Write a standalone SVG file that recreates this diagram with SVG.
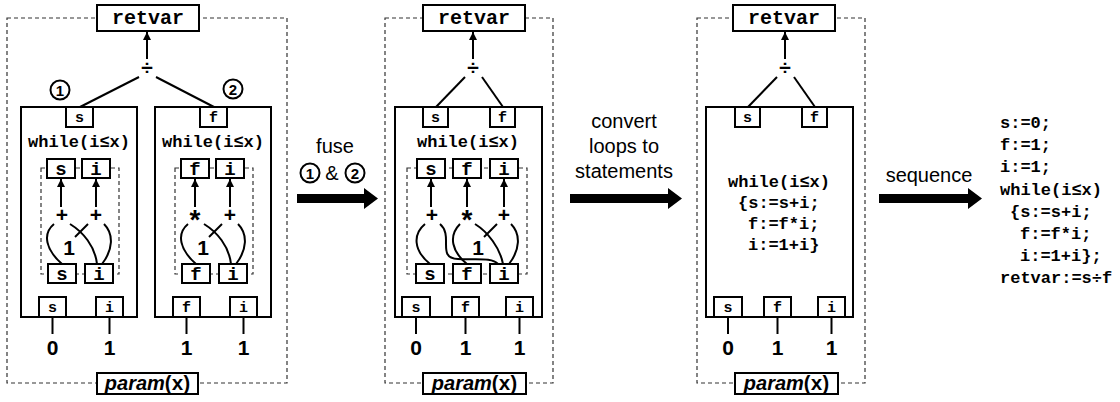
<svg xmlns="http://www.w3.org/2000/svg" width="1120" height="402" viewBox="0 0 1120 402">
<defs>
<style>
.box{fill:#fff;stroke:#000;stroke-width:2}
.frame{fill:none;stroke:#000;stroke-width:2}
.dash{fill:none;stroke:#333;stroke-width:1.2;stroke-dasharray:4 3}
.ln{fill:none;stroke:#000;stroke-width:2}
.arr{fill:none;stroke:#000;stroke-width:2;marker-end:url(#ah)}
.m{font-family:"Liberation Mono","Courier New",monospace;font-weight:bold;fill:#000}
.s{font-family:"Liberation Sans",Arial,sans-serif;fill:#000}
.b{font-weight:bold}
.c{text-anchor:middle}
.rv{font-size:20px}
.wh{font-size:17px}
.lb{font-size:15px}
.ib{font-size:19px}
.op{font-size:21px;font-weight:bold}
.ast{font-size:28px;font-weight:bold}
.num{font-size:21px;font-weight:bold}
.lab{font-size:20px}
.circ{fill:#fff;stroke:#000;stroke-width:2}
.cn{font-size:15px;font-weight:bold}
.big{fill:#000}
</style>
<marker id="ah" viewBox="0 0 10 10" refX="10" refY="5" markerWidth="8" markerHeight="8" markerUnits="userSpaceOnUse" orient="auto"><path d="M0,0 L10,5 L0,10 z" fill="#000"/></marker>
</defs>

<!-- ===== Panel 1 ===== -->
<g id="panel1">
<rect class="dash" x="7" y="18" width="280" height="365"/>
<g id="p1-retvar"><rect class="box" x="97" y="5" width="102" height="26"/><text class="m rv c" x="148" y="24">retvar</text></g>
<g id="p1-div"><text class="s op c" x="147" y="75">÷</text></g>
<g id="p1-c1"><circle class="circ" cx="60" cy="90" r="9.5"/><text class="s cn c" x="60" y="95.5">1</text></g>
<g id="p1-c2"><circle class="circ" cx="233" cy="89" r="9.5"/><text class="s cn c" x="233" y="94.5">2</text></g>

<g id="p1-loopA">
<rect class="frame" x="21" y="107" width="116" height="210"/>
<rect class="box" x="66" y="107" width="27" height="20"/><text class="m lb c" x="79.5" y="122">s</text>
<text class="m wh c" x="79" y="147">while(i≤x)</text>
<rect class="dash" x="41" y="168" width="78" height="106"/>
<rect class="box" x="47" y="159" width="28" height="19"/><text class="m ib c" x="61" y="175">s</text>
<rect class="box" x="82" y="159" width="28" height="19"/><text class="m ib c" x="96" y="175">i</text>
<text class="s op c" x="62" y="222">+</text>
<text class="s op c" x="96" y="222">+</text>
<text class="s num c" x="69" y="255">1</text>
<rect class="box" x="48" y="264" width="28" height="19"/><text class="m ib c" x="62" y="280">s</text>
<rect class="box" x="85" y="264" width="28" height="19"/><text class="m ib c" x="99" y="280">i</text>
<rect class="box" x="39" y="297" width="27" height="20"/><text class="m lb c" x="52.5" y="312">s</text>
<rect class="box" x="96" y="297" width="27" height="20"/><text class="m lb c" x="109.5" y="312">i</text>
</g>

<g id="p1-loopB">
<rect class="frame" x="155" y="107" width="116" height="210"/>
<rect class="box" x="200" y="107" width="27" height="20"/><text class="m lb c" x="213.5" y="122">f</text>
<text class="m wh c" x="213" y="147">while(i≤x)</text>
<rect class="dash" x="175" y="168" width="78" height="106"/>
<rect class="box" x="181" y="159" width="28" height="19"/><text class="m ib c" x="195" y="175">f</text>
<rect class="box" x="216" y="159" width="28" height="19"/><text class="m ib c" x="230" y="175">i</text>
<text class="s ast c" x="195" y="229">*</text>
<text class="s op c" x="230" y="222">+</text>
<text class="s num c" x="203" y="255">1</text>
<rect class="box" x="182" y="264" width="28" height="19"/><text class="m ib c" x="196" y="280">f</text>
<rect class="box" x="219" y="264" width="28" height="19"/><text class="m ib c" x="233" y="280">i</text>
<rect class="box" x="173" y="297" width="27" height="20"/><text class="m lb c" x="186.5" y="312">f</text>
<rect class="box" x="230" y="297" width="27" height="20"/><text class="m lb c" x="243.5" y="312">i</text>
</g>

<g id="p1-inputs">
<text class="s num c" x="52.5" y="355">0</text>
<text class="s num c" x="109.5" y="355">1</text>
<text class="s num c" x="186.5" y="355">1</text>
<text class="s num c" x="243.5" y="355">1</text>
</g>
<g id="p1-param"><rect class="box" x="97" y="373" width="101" height="21"/><text class="c" x="147.5" y="390"><tspan class="s b" font-size="20" font-style="italic">param</tspan><tspan class="s b" font-size="20">(</tspan><tspan class="m" font-size="20">x</tspan><tspan class="s b" font-size="20">)</tspan></text></g>
</g>

<!-- ===== Panel 2 ===== -->
<g id="panel2">
<rect class="dash" x="385" y="18" width="168" height="365"/>
<g id="p2-retvar"><rect class="box" x="423" y="5" width="102" height="26"/><text class="m rv c" x="474" y="24">retvar</text></g>
<g id="p2-div"><text class="s op c" x="473" y="75">÷</text></g>
<g id="p2-loop">
<rect class="frame" x="395" y="107" width="147" height="210"/>
<rect class="box" x="423" y="107" width="25" height="20"/><text class="m lb c" x="435.5" y="122">s</text>
<rect class="box" x="490" y="107" width="25" height="20"/><text class="m lb c" x="502.5" y="122">f</text>
<text class="m wh c" x="468" y="147">while(i≤x)</text>
<rect class="dash" x="407" y="168" width="120" height="106"/>
<rect class="box" x="417" y="159" width="28" height="19"/><text class="m ib c" x="431" y="175">s</text>
<rect class="box" x="453" y="159" width="28" height="19"/><text class="m ib c" x="467" y="175">f</text>
<rect class="box" x="490" y="159" width="28" height="19"/><text class="m ib c" x="504" y="175">i</text>
<text class="s op c" x="432" y="222">+</text>
<text class="s ast c" x="467" y="229">*</text>
<text class="s op c" x="504" y="222">+</text>
<text class="s num c" x="478" y="255">1</text>
<rect class="box" x="416" y="264" width="28" height="19"/><text class="m ib c" x="430" y="280">s</text>
<rect class="box" x="453" y="264" width="28" height="19"/><text class="m ib c" x="467" y="280">f</text>
<rect class="box" x="490" y="264" width="28" height="19"/><text class="m ib c" x="504" y="280">i</text>
<rect class="box" x="402" y="297" width="28" height="20"/><text class="m lb c" x="416" y="312">s</text>
<rect class="box" x="452" y="297" width="27" height="20"/><text class="m lb c" x="465.5" y="312">f</text>
<rect class="box" x="506" y="297" width="27" height="20"/><text class="m lb c" x="519.5" y="312">i</text>
</g>
<g id="p2-inputs">
<text class="s num c" x="416" y="355">0</text>
<text class="s num c" x="465.5" y="355">1</text>
<text class="s num c" x="519.5" y="355">1</text>
</g>
<g id="p2-param"><rect class="box" x="423" y="373" width="103" height="21"/><text class="c" x="474.5" y="390"><tspan class="s b" font-size="20" font-style="italic">param</tspan><tspan class="s b" font-size="20">(</tspan><tspan class="m" font-size="20">x</tspan><tspan class="s b" font-size="20">)</tspan></text></g>
</g>

<!-- ===== Panel 3 ===== -->
<g id="panel3">
<rect class="dash" x="697" y="18" width="168" height="365"/>
<g id="p3-retvar"><rect class="box" x="733" y="5" width="102" height="26"/><text class="m rv c" x="784" y="24">retvar</text></g>
<g id="p3-div"><text class="s op c" x="785" y="75">÷</text></g>
<g id="p3-loop">
<rect class="frame" x="706" y="107" width="147" height="210"/>
<rect class="box" x="735" y="107" width="25" height="20"/><text class="m lb c" x="747.5" y="122">s</text>
<rect class="box" x="802" y="107" width="25" height="20"/><text class="m lb c" x="814.5" y="122">f</text>
<text class="m wh" x="728" y="187">while(i≤x)</text>
<text class="m wh" x="738" y="208">{s:=s+i;</text>
<text class="m wh" x="748" y="229">f:=f*i;</text>
<text class="m wh" x="748" y="250">i:=1+i}</text>
<rect class="box" x="714" y="297" width="28" height="20"/><text class="m lb c" x="728" y="312">s</text>
<rect class="box" x="764" y="297" width="27" height="20"/><text class="m lb c" x="777.5" y="312">f</text>
<rect class="box" x="818" y="297" width="27" height="20"/><text class="m lb c" x="831.5" y="312">i</text>
</g>
<g id="p3-inputs">
<text class="s num c" x="728" y="355">0</text>
<text class="s num c" x="777.5" y="355">1</text>
<text class="s num c" x="831.5" y="355">1</text>
</g>
<g id="p3-param"><rect class="box" x="735" y="373" width="103" height="21"/><text class="c" x="786.5" y="390"><tspan class="s b" font-size="20" font-style="italic">param</tspan><tspan class="s b" font-size="20">(</tspan><tspan class="m" font-size="20">x</tspan><tspan class="s b" font-size="20">)</tspan></text></g>
</g>

<!-- ===== Transformation steps ===== -->
<g id="step-fuse">
<text class="s lab c" x="335" y="153">fuse</text>
<circle class="circ" cx="310" cy="173" r="9.5"/><text class="s cn c" x="310" y="178.5">1</text>
<text class="s lab c" x="332" y="180">&amp;</text>
<circle class="circ" cx="355" cy="173" r="9.5"/><text class="s cn c" x="355" y="178.5">2</text>
<polygon class="big" points="297,194 364,194 364,188 378,198.5 364,209 364,203 297,203"/>
</g>
<g id="step-convert">
<text class="s lab c" x="624" y="128">convert</text>
<text class="s lab c" x="624" y="153">loops to</text>
<text class="s lab c" x="624" y="178">statements</text>
<polygon class="big" points="570,194 668,194 668,188 682,198.5 668,209 668,203 570,203"/>
</g>
<g id="step-sequence">
<text class="s lab c" x="929" y="182">sequence</text>
<polygon class="big" points="879,194 968,194 968,188 982,198.5 968,209 968,203 879,203"/>
</g>

<g id="result-code">
<text class="m wh" x="1000" y="128">s:=0;</text>
<text class="m wh" x="1000" y="150">f:=1;</text>
<text class="m wh" x="1000" y="172">i:=1;</text>
<text class="m wh" x="1000" y="195">while(i≤x)</text>
<text class="m wh" x="1010" y="217">{s:=s+i;</text>
<text class="m wh" x="1020" y="239">f:=f*i;</text>
<text class="m wh" x="1020" y="261">i:=1+i};</text>
<text class="m wh" x="1000" y="283">retvar:=s÷f</text>
</g>

<!-- ===== Connectors ===== -->
<g id="connectors">
<!-- panel 1 -->
<line class="arr" x1="147" y1="59" x2="147" y2="32"/>
<path class="ln" d="M139,77 L80,107"/>
<path class="ln" d="M156,77 L214,107"/>
<line class="arr" x1="61" y1="207" x2="61" y2="179"/>
<line class="arr" x1="96" y1="207" x2="96" y2="179"/>
<path class="ln" d="M62,264 C46,250 42,234 54,224"/>
<path class="ln" d="M70,224 C83,232 95,246 97,264"/>
<path class="ln" d="M88,224 L75,237"/>
<path class="ln" d="M104,224 C114,234 113,250 102,264"/>
<line class="ln" x1="52.5" y1="317" x2="52.5" y2="334"/>
<line class="ln" x1="109.5" y1="317" x2="109.5" y2="334"/>
<line class="arr" x1="195" y1="207" x2="195" y2="179"/>
<line class="arr" x1="230" y1="207" x2="230" y2="179"/>
<path class="ln" d="M196,264 C180,250 176,234 188,224"/>
<path class="ln" d="M204,224 C217,232 229,246 231,264"/>
<path class="ln" d="M222,224 L209,237"/>
<path class="ln" d="M238,224 C248,234 247,250 236,264"/>
<line class="ln" x1="186.5" y1="317" x2="186.5" y2="334"/>
<line class="ln" x1="243.5" y1="317" x2="243.5" y2="334"/>
<!-- panel 2 -->
<line class="arr" x1="473" y1="59" x2="473" y2="32"/>
<path class="ln" d="M465,77 L436,107"/>
<path class="ln" d="M482,77 L503,107"/>
<line class="arr" x1="431" y1="207" x2="431" y2="179"/>
<line class="arr" x1="467" y1="207" x2="467" y2="179"/>
<line class="arr" x1="504" y1="207" x2="504" y2="179"/>
<path class="ln" d="M430,264 C413,250 413,234 425,224"/>
<path class="ln" d="M440,224 C454,236 436,258 458,259 C476,260 492,257 498,264"/>
<path class="ln" d="M460,224 C448,236 452,252 467,264"/>
<path class="ln" d="M475,224 C488,232 500,248 503,264"/>
<path class="ln" d="M497,224 L484,237"/>
<path class="ln" d="M511,224 C521,234 520,250 509,264"/>
<line class="ln" x1="416" y1="317" x2="416" y2="334"/>
<line class="ln" x1="465.5" y1="317" x2="465.5" y2="334"/>
<line class="ln" x1="519.5" y1="317" x2="519.5" y2="334"/>
<!-- panel 3 -->
<line class="arr" x1="785" y1="59" x2="785" y2="32"/>
<path class="ln" d="M777,77 L748,107"/>
<path class="ln" d="M794,77 L815,107"/>
<line class="ln" x1="728" y1="317" x2="728" y2="334"/>
<line class="ln" x1="777.5" y1="317" x2="777.5" y2="334"/>
<line class="ln" x1="831.5" y1="317" x2="831.5" y2="334"/>
</g>
</svg>
